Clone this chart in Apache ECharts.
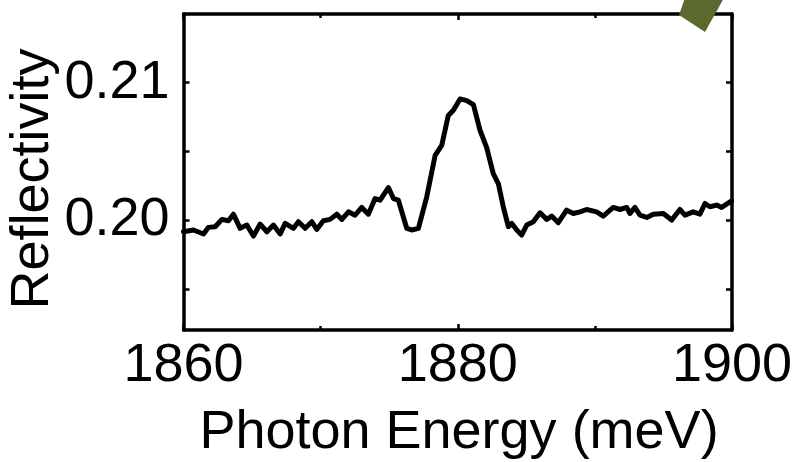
<!DOCTYPE html>
<html>
<head>
<meta charset="utf-8">
<script src="https://cdn.jsdelivr.net/npm/echarts@6/dist/echarts.min.js"></script>
<style>
  html, body { margin: 0; padding: 0; background: #fff; }
  #chart { width: 798px; height: 462px; }
</style>
</head>
<body>
<div id="chart"></div>
<script>
// Reflectivity spectrum around the 1880 meV resonance
const energy = [
  1860.00, 1860.73, 1861.46, 1861.82, 1862.31, 1862.80, 1863.28, 1863.64, 1864.13, 1864.62,
  1865.10, 1865.59, 1866.08, 1866.56, 1867.05, 1867.41, 1868.02, 1868.38, 1868.87, 1869.36,
  1869.72, 1870.20, 1870.69, 1871.18, 1871.55, 1872.03, 1872.51, 1873.00, 1873.48, 1873.97,
  1874.34, 1874.94, 1875.31, 1875.67, 1876.28, 1876.65, 1877.13, 1877.74, 1878.35, 1878.83,
  1879.31, 1879.68, 1880.17, 1880.66, 1881.14, 1881.63, 1882.11, 1882.59, 1882.96, 1883.32,
  1883.69, 1883.94, 1884.30, 1884.66, 1885.03, 1885.51, 1886.00, 1886.49, 1886.85, 1887.33,
  1887.94, 1888.43, 1888.91, 1889.40, 1890.13, 1890.61, 1891.34, 1891.83, 1892.32, 1892.56,
  1892.92, 1893.29, 1893.78, 1894.26, 1894.99, 1895.60, 1896.20, 1896.57, 1897.17, 1897.66,
  1898.03, 1898.39, 1898.88, 1899.24, 1899.97
];
const reflectivity = [
  0.19915, 0.19928, 0.19899, 0.19947, 0.19952, 0.20005, 0.19995, 0.20043, 0.19940, 0.19964,
  0.19884, 0.19971, 0.19915, 0.19964, 0.19899, 0.19976, 0.19940, 0.19988, 0.19940, 0.19988,
  0.19932, 0.19995, 0.20005, 0.20043, 0.20005, 0.20060, 0.20036, 0.20092, 0.20043, 0.20157,
  0.20145, 0.20237, 0.20157, 0.20145, 0.19940, 0.19928, 0.19940, 0.20169, 0.20471, 0.20543,
  0.20761, 0.20800, 0.20882, 0.20870, 0.20841, 0.20652, 0.20527, 0.20338, 0.20266, 0.20097,
  0.19952, 0.19976, 0.19928, 0.19891, 0.19964, 0.19988, 0.20053, 0.20005, 0.20029, 0.19981,
  0.20072, 0.20048, 0.20060, 0.20077, 0.20060, 0.20029, 0.20092, 0.20077, 0.20092, 0.20048,
  0.20092, 0.20036, 0.20019, 0.20043, 0.20048, 0.20000, 0.20077, 0.20036, 0.20060, 0.20043,
  0.20121, 0.20097, 0.20109, 0.20092, 0.20140
];
const yTickValues = [0.195, 0.200, 0.205, 0.210];
const yLabelValues = [0.200, 0.210];
const xLabelStep = 20;

const FONT = "'Liberation Sans', Arial, Helvetica, sans-serif";
const xRange = { min: 1860, max: 1900 };
const yRange = { min: 0.192, max: 0.215 };

const frameLine = { show: true, onZero: false, lineStyle: { color: '#000', width: 3.5 } };

const chart = echarts.init(document.getElementById('chart'), null, { renderer: 'canvas' });

chart.setOption({
  animation: false,
  backgroundColor: '#fff',
  grid: { left: 183.5, right: 66, top: 14, bottom: 132, containLabel: false },
  xAxis: [
    {
      type: 'value', position: 'bottom', ...xRange, interval: xLabelStep,
      axisLine: frameLine,
      axisTick: { show: true, inside: true, length: 6, lineStyle: { color: '#000', width: 2.5 } },
      minorTick: { show: true, splitNumber: 2, length: 4, lineStyle: { color: '#000', width: 2.5 } },
      axisLabel: { show: true, color: '#000', fontFamily: FONT, fontSize: 54, margin: 9,
                   formatter: v => String(v) },
      splitLine: { show: false }
    },
    {
      type: 'value', position: 'top', ...xRange, interval: xLabelStep,
      axisLine: frameLine,
      axisTick: { show: true, inside: true, length: 6, lineStyle: { color: '#000', width: 2.5 } },
      minorTick: { show: true, splitNumber: 2, length: 4, lineStyle: { color: '#000', width: 2.5 } },
      axisLabel: { show: false },
      splitLine: { show: false }
    }
  ],
  yAxis: [
    {
      type: 'value', position: 'left', ...yRange,
      axisLine: frameLine,
      axisTick: { show: true, inside: true, length: 6, customValues: yTickValues,
                  lineStyle: { color: '#000', width: 2.5 } },
      axisLabel: { show: true, customValues: yLabelValues, color: '#000', fontFamily: FONT,
                   fontSize: 54, margin: 14, formatter: v => v.toFixed(2) },
      splitLine: { show: false }
    },
    {
      type: 'value', position: 'right', ...yRange,
      axisLine: frameLine,
      axisTick: { show: true, inside: true, length: 6, customValues: yTickValues,
                  lineStyle: { color: '#000', width: 2.5 } },
      axisLabel: { show: false },
      splitLine: { show: false }
    }
  ],
  series: [
    {
      type: 'line',
      xAxisIndex: 0,
      yAxisIndex: 0,
      data: energy.map((e, i) => [e, reflectivity[i]]),
      showSymbol: false,
      symbol: 'none',
      smooth: false,
      lineStyle: { color: '#000', width: 5, join: 'round', cap: 'round' },
      z: 3
    }
  ],
  graphic: [
    {
      type: 'text',
      x: 33, y: 179,
      rotation: Math.PI / 2,
      style: {
        text: 'Reflectivity', fill: '#000', font: '54px ' + FONT,
        textAlign: 'center', textVerticalAlign: 'middle'
      }
    },
    {
      type: 'text',
      x: 459, y: 433,
      style: {
        text: 'Photon Energy (meV)', fill: '#000', font: '54px ' + FONT,
        textAlign: 'center', textVerticalAlign: 'middle'
      }
    },
    {
      type: 'polygon',
      z: 100,
      shape: { points: [[685, -2], [679, 15], [705, 32], [724, -2]] },
      style: { fill: '#5a6a2e' }
    }
  ]
});
</script>
</body>
</html>
